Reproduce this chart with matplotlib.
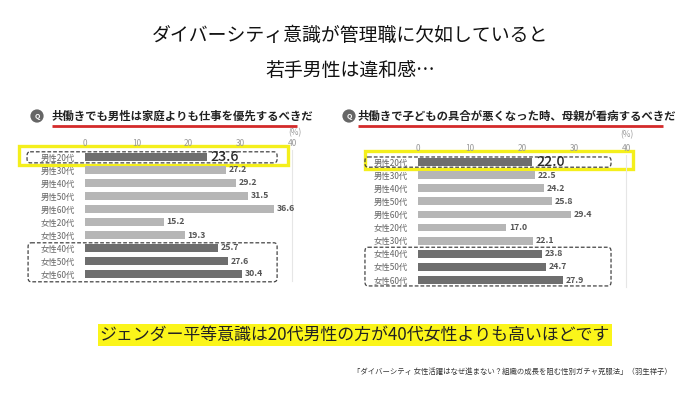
import matplotlib
matplotlib.use("Agg")
import matplotlib.pyplot as plt
from matplotlib.lines import Line2D
from matplotlib.patches import FancyBboxPatch, Rectangle
from matplotlib.transforms import blended_transform_factory

plt.rcParams["font.family"] = ["Noto Sans CJK JP", "DejaVu Sans"]

W, H = 700, 393

# data
categories = ["男性20代", "男性30代", "男性40代", "男性50代", "男性60代",
              "女性20代", "女性30代", "女性40代", "女性50代", "女性60代"]
q1_values = [23.6, 27.2, 29.2, 31.5, 36.6, 15.2, 19.3, 25.7, 27.6, 30.4]
q2_values = [22.0, 22.5, 24.2, 25.8, 29.4, 17.0, 22.1, 23.8, 24.7, 27.9]
highlight = [True, False, False, False, False, False, False, True, True, True]
ticks = [0, 10, 20, 30, 40]

title_1 = "ダイバーシティ意識が管理職に欠如していると"
title_2 = "若手男性は違和感…"
q1_title = "共働きでも男性は家庭よりも仕事を優先するべきだ"
q2_title = "共働きで子どもの具合が悪くなった時、母親が看病するべきだ"
summary = "ジェンダー平等意識は20代男性の方が40代女性よりも高いほどです"
source = "「ダイバーシティ 女性活躍はなぜ進まない？組織の成長を阻む性別ガチャ克服法」（羽生祥子）"

DARK = "#6e6e6e"
LIGHT = "#b6b6b6"
YELLOW = "#f4ef1c"
RED = "#d42a2a"


def fx(px):
    return px / W


def fy(py):
    return 1 - py / H


fig = plt.figure(figsize=(W / 100, H / 100), dpi=100)
fig.patch.set_facecolor("white")

fig.text(0.5, fy(35), title_1, ha="center", va="center", fontsize=13.6, color="#111")
fig.text(0.5, fy(70), title_2, ha="center", va="center", fontsize=13.6, color="#111")


def panel(rect, values, title, icon_x, title_x, line_end, title_y, pct_xy,
          yellow_x, yellow_y, male_box, female_box):
    ax = fig.add_axes(rect)
    y = list(range(len(categories)))
    colors = [DARK if h else LIGHT for h in highlight]
    ax.barh(y, values, height=0.6, color=colors, zorder=2)
    ax.set_xlim(0, 40)
    ax.set_ylim(len(categories) - 0.5, -0.5)
    ax.set_yticks(y)
    ax.set_yticklabels(categories, fontsize=6, color="#666")
    ax.tick_params(axis="y", length=0, pad=7)
    ax.xaxis.tick_top()
    ax.set_xticks(ticks)
    ax.set_xticklabels([str(t) for t in ticks], fontsize=6, color="#999")
    ax.tick_params(axis="x", length=0, pad=2)
    for s in ["top", "left", "bottom"]:
        ax.spines[s].set_visible(False)
    ax.spines["right"].set_color("#e6e6e6")
    ax.spines["right"].set_linewidth(0.8)

    for i, v in enumerate(values):
        if i == 0:
            ax.text(v + 0.7, i, f"{v:.1f}", va="center", ha="left",
                    fontsize=10.2, fontweight="medium", color="#2a2a2a", zorder=4)
        else:
            ax.text(v + 0.5, i, f"{v:.1f}", va="center", ha="left",
                    fontsize=6.3, fontweight="bold", color="#555", zorder=4)

    tr = blended_transform_factory(ax.transAxes, ax.transData)
    # yellow highlight box around the 20s-male row
    ax.add_patch(Rectangle((yellow_x[0], yellow_y[0]), yellow_x[1] - yellow_x[0],
                           yellow_y[1] - yellow_y[0], transform=tr, fill=False,
                           ec=YELLOW, lw=2.4, clip_on=False, zorder=1))
    for (x0, x1, y0, y1) in (male_box, female_box):
        ax.add_patch(FancyBboxPatch((x0, y0), x1 - x0, y1 - y0,
                                    boxstyle="round,pad=0,rounding_size=0.015",
                                    transform=tr, fill=False, ec="#444", lw=0.9,
                                    ls=(0, (3, 1.6)), clip_on=False, zorder=3,
                                    mutation_aspect=20))

    fig.text(fx(pct_xy[0]), fy(pct_xy[1]), "(%)", ha="center", va="center",
             fontsize=6, color="#999")
    fig.text(fx(icon_x), fy(title_y), "Q", ha="center", va="center", fontsize=5,
             fontweight="bold", color="white",
             bbox=dict(boxstyle="circle,pad=0.45", fc="#666", ec="none"))
    fig.text(fx(title_x), fy(title_y), title, ha="left", va="center",
             fontsize=8.2, fontweight="bold", color="#222")
    fig.add_artist(Line2D([fx(title_x), fx(line_end)], [fy(125.5), fy(125.5)],
                          color=RED, lw=2.0, solid_capstyle="butt"))
    return ax


ax1 = panel([fx(85), fy(280.5), (292 - 85) / W, 130 / H], q1_values, q1_title,
            37, 52, 297, 116, (295, 133),
            (-0.321, 0.983), (-0.81, 0.65),
            (-0.28, 0.928, -0.4, 0.45), (-0.275, 0.928, 6.6, 9.6))
ax2 = panel([fx(418), fy(286.6), (626 - 418) / W, 131.2 / H], q2_values, q2_title,
            349, 358, 663, 116, (627, 135),
            (-0.257, 1.036), (-0.80, 0.57),
            (-0.255, 0.928, -0.38, 0.4), (-0.255, 0.928, 6.5, 9.45))

fig.text(fx(355), fy(335), summary, ha="center", va="center", fontsize=12.2,
         color="#222", bbox=dict(boxstyle="square,pad=0.12", fc="#fbf51a", ec="none"))
fig.text(fx(672), fy(372), source, ha="right", va="center", fontsize=5.3, color="#333")

fig.savefig("out.png", dpi=100, facecolor="white")
